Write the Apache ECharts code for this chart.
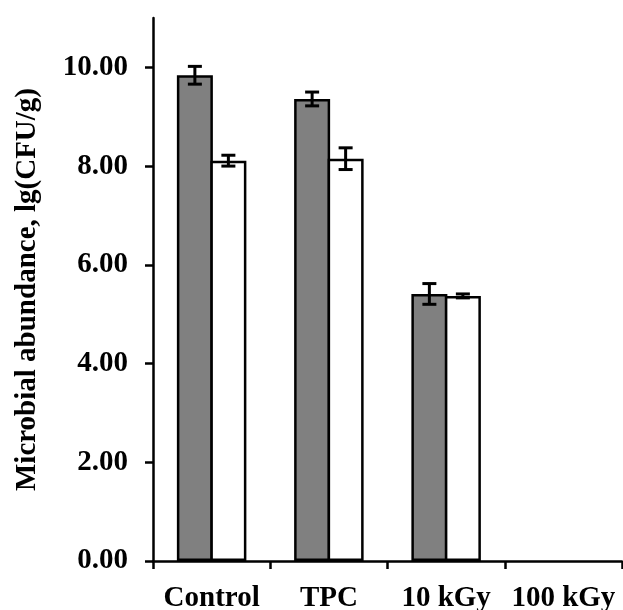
<!DOCTYPE html>
<html>
<head>
<meta charset="utf-8">
<script src="https://cdn.jsdelivr.net/npm/echarts@6/dist/echarts.min.js"></script>
<style>
  html, body { margin: 0; padding: 0; background: #fff; }
  #chart { width: 623px; height: 610px; }
</style>
</head>
<body>
<div id="chart"></div>
<script>
// data
const categories = ['Control', 'TPC', '10 kGy', '100 kGy'];
const grayMeans = [9.84, 9.36, 5.41, null];
const grayErrors = [0.18, 0.14, 0.21, null];
const whiteMeans = [8.11, 8.15, 5.37, null];
const whiteErrors = [0.11, 0.22, 0.04, null];
const yTicks = [0, 2, 4, 6, 8, 10];

const FONT = "'Liberation Serif', 'Times New Roman', Times, serif";
const BAR_W = 36;
const BORDER = 2.5;
// bars share their border line
const GAP_PX = -BORDER;
const CENTER_OFF = (BAR_W + GAP_PX) / 2;

let errData = (means, errs) => means.map((m, i) => [i, m, errs[i]]).filter(d => d[1] != null);

let errorBar = (offset) => (params, api) => {
  let i = api.value(0), m = api.value(1), e = api.value(2);
  let top = api.coord([i, m + e]);
  let bot = api.coord([i, m - e]);
  let x = top[0] + offset;
  let half = 7;
  let style = { stroke: '#000', lineWidth: 3 };
  return {
    type: 'group',
    children: [
      { type: 'line', shape: { x1: x, y1: top[1], x2: x, y2: bot[1] }, style },
      { type: 'line', shape: { x1: x - half, y1: top[1], x2: x + half, y2: top[1] }, style },
      { type: 'line', shape: { x1: x - half, y1: bot[1], x2: x + half, y2: bot[1] }, style }
    ]
  };
};

let chart = echarts.init(document.getElementById('chart'));
chart.setOption({
  animation: false,
  grid: { left: 153, right: 1, top: 18, bottom: 49, outerBoundsMode: 'none' },
  xAxis: {
    type: 'category',
    data: categories,
    axisLine: { lineStyle: { color: '#000', width: 2.5 } },
    axisTick: { show: true, length: 8, lineStyle: { color: '#000', width: 2.5 } },
    axisLabel: { color: '#000', fontFamily: FONT, fontWeight: 'bold', fontSize: 29, margin: 23, interval: 0 }
  },
  yAxis: {
    type: 'value',
    min: 0,
    max: 11,
    interval: 1,
    name: 'Microbial abundance, lg(CFU/g)',
    nameLocation: 'middle',
    nameGap: 111,
    nameTextStyle: { color: '#000', fontFamily: FONT, fontWeight: 'bold', fontSize: 29 },
    axisLine: { show: true, lineStyle: { color: '#000', width: 2.5 } },
    axisTick: { show: true, length: 8, customValues: yTicks, lineStyle: { color: '#000', width: 2.5 } },
    axisLabel: {
      customValues: yTicks,
      formatter: (v) => v.toFixed(2),
      color: '#000', fontFamily: FONT, fontWeight: 'bold', fontSize: 29, margin: 25
    },
    splitLine: { show: false }
  },
  series: [
    {
      type: 'bar',
      data: grayMeans,
      barWidth: BAR_W,
      barGap: (GAP_PX / BAR_W * 100) + '%',
      itemStyle: { color: '#808080', borderColor: '#000', borderWidth: BORDER }
    },
    {
      type: 'bar',
      data: whiteMeans,
      barWidth: BAR_W,
      barGap: (GAP_PX / BAR_W * 100) + '%',
      itemStyle: { color: '#fff', borderColor: '#000', borderWidth: BORDER }
    },
    {
      type: 'custom',
      renderItem: errorBar(-CENTER_OFF),
      data: errData(grayMeans, grayErrors),
      z: 10
    },
    {
      type: 'custom',
      renderItem: errorBar(CENTER_OFF),
      data: errData(whiteMeans, whiteErrors),
      z: 10
    }
  ]
});
</script>
</body>
</html>
